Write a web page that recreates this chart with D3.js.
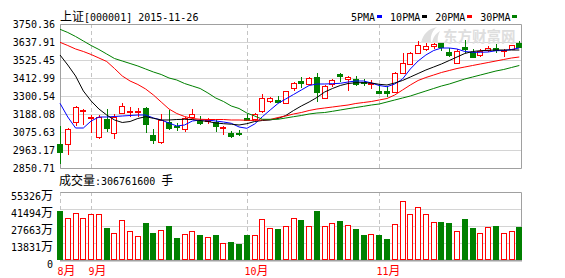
<!DOCTYPE html>
<html>
<head>
<meta charset="utf-8">
<script src="https://cdn.jsdelivr.net/npm/d3@7"></script>
<style>
  body { margin: 0; background: #fff; }
  svg { display: block; }
</style>
</head>
<body>
<svg id="chart" width="565" height="278"></svg>
<script>
// trading days, 2015-08-26 .. 2015-11-26
var days = ["08-26","08-27","08-28","08-31",
  "09-01","09-02","09-07","09-08","09-09","09-10","09-11","09-14","09-15","09-16","09-17","09-18","09-21","09-22","09-23","09-24","09-25","09-28","09-29","09-30",
  "10-08","10-09","10-12","10-13","10-14","10-15","10-16","10-19","10-20","10-21","10-22","10-23","10-26","10-27","10-28","10-29","10-30",
  "11-02","11-03","11-04","11-05","11-06","11-09","11-10","11-11","11-12","11-13","11-16","11-17","11-18","11-19","11-20","11-23","11-24","11-25","11-26"];

var open  = [3000.6,2998.6,3136.0,3204.8,3165.0,3042.3,3154.8,3071.5,3192.2,3198.5,3198.5,3225.6,3056.9,3015.2,3136.0,3113.1,3092.3,3171.4,3144.3,3144.3,
             3138.1,3098.5,3069.4,3069.4,3165.2,3159.0,3204.8,3267.2,3275.5,3258.9,3352.6,3394.3,3373.4,3417.2,3290.1,3373.4,3440.0,3404.7,3404.7,3390.0,
             3373.4,3333.9,3329.7,3323.4,3446.3,3498.4,3567.1,3592.1,3610.8,3629.6,3577.5,3508.8,3608.8,3577.5,3556.7,3588.0,3600.4,3581.7,3592.1,3629.6];
var high  = [3113.1,3098.5,3238.0,3217.2,3181.8,3181.8,3217.2,3186.0,3254.7,3229.7,3223.5,3234.0,3094.4,3186.0,3213.0,3129.8,3169.3,3219.3,3173.5,3163.0,
             3154.8,3113.0,3082.0,3086.0,3186.0,3192.0,3313.0,3294.3,3302.6,3333.9,3386.0,3417.2,3421.3,3442.1,3367.2,3404.7,3446.3,3427.6,3425.5,3404.7,
             3400.5,3373.4,3354.7,3448.4,3571.3,3577.5,3646.2,3633.8,3629.6,3633.8,3598.3,3592.1,3650.4,3592.1,3592.1,3615.0,3625.4,3592.0,3621.3,3646.2];
var low   = [2875.7,2932.0,3113.1,3119.4,3067.3,3031.9,3077.7,3032.0,3188.0,3167.0,3171.4,3067.3,3000.6,3000.6,3088.0,3084.0,3077.7,3154.8,3117.3,3123.5,
             3077.7,3056.9,3040.0,3052.7,3144.3,3148.5,3196.4,3254.7,3254.7,3254.7,3333.9,3348.4,3367.2,3265.0,3281.8,3354.7,3385.9,3331.8,3360.9,3363.0,
             3342.2,3317.2,3296.4,3317.2,3442.1,3494.2,3565.0,3581.7,3592.1,3581.7,3542.1,3504.6,3567.1,3542.1,3542.1,3577.5,3571.3,3546.3,3588.0,3604.6];
var close = [2952.8,3092.3,3229.7,3213.0,3171.4,3171.4,3098.5,3171.4,3240.2,3204.8,3209.0,3127.7,3025.6,3150.6,3098.5,3104.8,3161.0,3186.0,3129.8,3152.7,
             3111.0,3108.0,3052.7,3065.2,3152.7,3186.0,3286.0,3286.0,3265.0,3329.7,3379.7,3381.8,3413.0,3323.4,3363.0,3400.5,3427.6,3417.2,3375.5,3383.8,
             3383.8,3321.4,3319.3,3442.1,3504.6,3567.1,3619.2,3613.0,3625.4,3608.8,3558.8,3581.7,3592.1,3546.3,3583.8,3598.3,3588.0,3588.0,3617.1,3608.8];

// volume, in 万手
var volume = [40110,33927,37995,33927,37426,37426,26035,21967,32300,23594,19282,30103,22211,24164,27662,18143,20910,23594,20340,18469,
              20340,13831,14645,13018,20340,20096,33114,25791,25222,27418,33927,32544,27418,39866,27418,30103,31730,28232,25222,20340,
              20910,20340,17086,29290,47758,37426,42877,37426,30917,30917,30103,23594,33358,26035,21967,26605,27662,21967,23594,26849];

var ma5  = [3254.9,3169.3,3100.6,3100.6,3144.3,3169.3,3169.3,3172.5,3175.6,3178.7,3181.8,3181.8,3163.1,3150.6,3131.9,3113.1,3119.4,3144.3,3150.6,3150.6,
            3144.3,3138.1,3130.0,3106.9,3098.7,3125.6,3171.2,3213.1,3253.7,3281.8,3309.9,3338.0,3366.1,3375.5,3375.5,3377.4,3379.9,3388.0,3394.2,3394.2,
            3381.8,3366.1,3358.6,3375.5,3406.7,3469.2,3519.2,3556.7,3584.8,3600.4,3600.4,3594.2,3578.6,3573.6,3573.6,3575.4,3583.6,3584.8,3591.0,3600.4];
var ma10 = [3556.7,3494.2,3425.5,3331.8,3269.3,3219.3,3181.8,3150.6,3135.0,3141.2,3160.0,3171.2,3161.2,3150.6,3150.6,3153.7,3155.0,3153.7,3147.5,3141.2,
            3131.9,3127.5,3124.4,3119.4,3127.5,3141.2,3147.5,3150.6,3160.0,3178.7,3209.9,3238.1,3263.0,3291.2,3325.5,3347.4,3366.1,3378.6,3383.6,3383.6,
            3381.8,3373.6,3369.3,3381.8,3397.4,3419.2,3441.1,3463.0,3481.7,3500.5,3522.3,3544.2,3566.1,3578.6,3583.6,3586.1,3587.9,3587.9,3587.9,3587.9];
var ma20 = [3636.0,3616.0,3594.2,3578.6,3559.8,3537.9,3516.1,3472.3,3425.5,3394.2,3372.4,3344.3,3306.8,3263.0,3219.3,3191.2,3172.5,3160.0,3155.0,3153.7,
            3153.7,3153.7,3150.6,3150.6,3148.7,3147.5,3151.8,3153.7,3166.2,3175.6,3188.1,3197.4,3209.9,3219.3,3225.6,3231.8,3238.1,3244.3,3253.7,3259.9,
            3266.2,3275.5,3284.9,3306.8,3338.0,3369.3,3397.4,3416.1,3431.7,3447.4,3459.8,3472.3,3481.7,3491.1,3500.5,3509.8,3519.2,3528.6,3537.9,3544.2];
var ma30 = [3717.3,3697.3,3672.3,3644.2,3616.0,3591.0,3562.9,3534.8,3519.2,3503.6,3488.0,3469.2,3450.5,3434.9,3413.0,3400.5,3378.6,3363.0,3347.4,3319.3,
            3288.0,3266.2,3238.1,3222.4,3194.3,3175.6,3155.0,3155.0,3155.0,3163.1,3171.2,3178.7,3188.1,3194.3,3197.4,3204.9,3213.1,3221.2,3228.7,3236.2,
            3244.3,3250.6,3263.0,3275.5,3288.0,3300.5,3316.2,3331.8,3347.4,3363.0,3375.5,3391.1,3406.7,3419.2,3431.7,3444.2,3456.7,3466.1,3478.6,3491.1];

var priceTicks = [2850.71,2963.17,3075.63,3188.08,3300.54,3412.99,3525.45,3637.91,3750.36];
var volTicks = [0,13831,27663,41494,55326];
var maNames = ["5PMA","10PMA","20PMA","30PMA"];
var maColors = ["#0000ff","#000000","#ff0000","#008000"];
var title = "上证[000001] 2015-11-26";
var volTitle = "成交量:306761600 手";

var RED = "#ff0000", GREEN = "#008000", GRID = "#d4d4d4", BORDER = "#a0a0a0";
var left = 60, right = 521;

var svg = d3.select("#chart");

var x = d3.scalePoint().domain(days).range([60, 519.3]);
var y = d3.scaleLinear().domain([priceTicks[0], priceTicks[priceTicks.length-1]]).range([168, 24]);
var yv = d3.scaleLinear().domain([0, volTicks[volTicks.length-1]]).range([260, 192]);

function px(d){ return Math.round(x(d)) + 0.5; }

// draw text with CJK runs at 12px and latin runs in a 10px mono font
function mixText(sel, str){
  sel.text(null);
  str.match(/[\u4e00-\u9fff]+|[^\u4e00-\u9fff]+/g).forEach(function(p){
    var cjk = /[\u4e00-\u9fff]/.test(p);
    sel.append("tspan")
      .attr("font-family", cjk ? "'Noto Sans CJK SC'" : "'DejaVu Sans Mono'")
      .attr("font-size", cjk ? 12 : 10)
      .text(p);
  });
}

// ---- price axis + grid
var gy = svg.append("g").attr("transform", "translate(" + left + ",0)")
  .call(d3.axisLeft(y).tickValues(priceTicks).tickFormat(d3.format(".2f")).tickSize(-(right-left)).tickPadding(5));
gy.select(".domain").remove();
gy.selectAll(".tick line").attr("stroke", GRID);
gy.selectAll(".tick text").attr("fill", "#000").each(function(d){ mixText(d3.select(this), d3.format(".2f")(d)); });

// ---- volume axis + grid
var gv = svg.append("g").attr("transform", "translate(" + left + ",0)")
  .call(d3.axisLeft(yv).tickValues(volTicks).tickSize(-(right-left)).tickPadding(7));
gv.select(".domain").remove();
gv.selectAll(".tick line").attr("stroke", GRID);
gv.selectAll(".tick text").attr("fill", "#000").attr("y", 4)
  .each(function(d){ mixText(d3.select(this), d ? d + "万" : "0"); });

// month separators
var monthStarts = days.filter(function(d, i){ return i == 0 || d.slice(0,2) != days[i-1].slice(0,2); });
monthStarts.forEach(function(d){
  [[24,168],[192,260]].forEach(function(r){
    svg.append("line")
      .attr("x1", px(d)).attr("x2", px(d))
      .attr("y1", r[0]).attr("y2", r[1])
      .attr("stroke", "#c4c4c4").attr("stroke-dasharray", "4,3");
  });
  var lab = svg.append("text").attr("x", px(d) - 3).attr("y", 275).attr("fill", RED);
  mixText(lab, (+d.slice(0,2)) + "月");
});

// borders
svg.append("path").attr("d", "M60.5,24.5H521.5V168.5H60.5Z").attr("fill", "none").attr("stroke", BORDER);
svg.append("path").attr("d", "M60.5,192.5H521.5V260").attr("fill", "none").attr("stroke", BORDER);
svg.append("line").attr("x1", 60).attr("x2", 522).attr("y1", 260.5).attr("y2", 260.5)
  .attr("stroke", BORDER).attr("stroke-width", 2);

// watermark
var wm = svg.append("g").attr("fill", "#dedede");
wm.append("path").attr("d", "M421,43 C423,34 428,29 437,27 C432,31 430,36 431,43 Z");
wm.append("path").attr("d", "M432,43 C433,38 435,34 440,31 C438,35 437,39 438,43 Z");
wm.append("text").attr("x", 443).attr("y", 42)
  .attr("font-family", "'Noto Sans CJK SC'").attr("font-weight", "bold").attr("font-size", 14.5)
  .text("东方财富网");

// ---- candles
var candles = svg.append("g").selectAll("g").data(days).join("g");
candles.each(function(d, i){
  var g = d3.select(this);
  var cx = px(d);
  var up = close[i] >= open[i];
  var yt = Math.round(y(Math.max(open[i], close[i])));
  var yb = Math.round(y(Math.min(open[i], close[i])));
  var yh = Math.round(y(high[i])), yl = Math.round(y(low[i]));
  if (yb - yt < 1) yb = yt + 1;
  if (up) {
    g.append("line").attr("x1", cx).attr("x2", cx).attr("y1", yh).attr("y2", yt).attr("stroke", RED);
    g.append("line").attr("x1", cx).attr("x2", cx).attr("y1", yb + 1).attr("y2", yl).attr("stroke", RED);
    g.append("rect").attr("x", cx - 3).attr("y", yt + 0.5).attr("width", 5).attr("height", yb - yt)
      .attr("fill", "#fff").attr("stroke", RED);
  } else {
    g.append("line").attr("x1", cx).attr("x2", cx).attr("y1", yh).attr("y2", yl).attr("stroke", GREEN);
    g.append("rect").attr("x", cx - 3.5).attr("y", yt).attr("width", 6).attr("height", yb - yt + 1)
      .attr("fill", GREEN);
  }
});

// ---- moving averages
[ma5, ma10, ma20, ma30].forEach(function(series, k){
  svg.append("path")
    .datum(series)
    .attr("fill", "none")
    .attr("stroke", maColors[k])
    .attr("stroke-width", 1)
    .attr("d", d3.line().x(function(v, i){ return x(days[i]); }).y(function(v){ return y(v); }));
});

// ---- volume bars
var bars = svg.append("g").selectAll("g").data(days).join("g");
bars.each(function(d, i){
  var g = d3.select(this);
  var cx = px(d);
  var top = Math.round(yv(volume[i]));
  if (close[i] >= open[i]) {
    g.append("rect").attr("x", cx - 3).attr("y", top + 0.5).attr("width", 5).attr("height", 259 - top)
      .attr("fill", "#fff").attr("stroke", RED);
  } else {
    g.append("rect").attr("x", cx - 3.5).attr("y", top).attr("width", 6).attr("height", 260 - top)
      .attr("fill", GREEN);
  }
});

// ---- titles and legend
mixText(svg.append("text").attr("x", 60).attr("y", 21).attr("fill", "#000"), title);
mixText(svg.append("text").attr("x", 59).attr("y", 185).attr("fill", "#000"), volTitle);

var lx = 351;
maNames.forEach(function(name, k){
  var t = svg.append("text").attr("x", lx).attr("y", 21).attr("fill", "#000");
  mixText(t, name);
  var w = t.node().getComputedTextLength();
  svg.append("rect").attr("x", Math.round(lx + w + 2)).attr("y", 15).attr("width", 5).attr("height", 3)
    .attr("fill", maColors[k]);
  lx = lx + w + 2 + 5 + 8;
});
</script>
</body>
</html>
